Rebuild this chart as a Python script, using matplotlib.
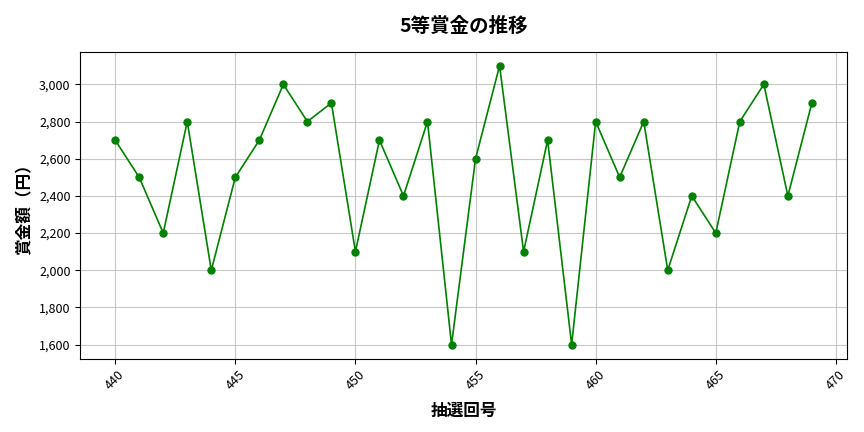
import matplotlib
matplotlib.use("Agg")
import matplotlib.pyplot as plt
import matplotlib.ticker as mticker

plt.rcParams['font.family'] = ['Noto Sans CJK JP', 'DejaVu Sans']

# 回号と5等賞金
rounds = list(range(440, 470))
prize = [2700, 2500, 2200, 2800, 2000, 2500, 2700, 3000, 2800, 2900,
         2100, 2700, 2400, 2800, 1600, 2600, 3100, 2100, 2700, 1600,
         2800, 2500, 2800, 2000, 2400, 2200, 2800, 3000, 2400, 2900]

fig, ax = plt.subplots(figsize=(8.64, 4.32), dpi=100)
ax.plot(rounds, prize, color='green', marker='o', markersize=5, linewidth=1.2)

ax.set_title('5等賞金の推移', fontsize=14, fontweight='bold', pad=14)
ax.set_xlabel('抽選回号', fontsize=12, fontweight='bold', labelpad=7)
ax.set_ylabel('賞金額（円）', fontsize=12, fontweight='bold')
ax.yaxis.set_major_formatter(mticker.FuncFormatter(lambda v, p: f'{int(v):,}'))
ax.grid(True, alpha=0.7)
plt.setp(ax.get_xticklabels(), rotation=45)
ax.tick_params(labelsize=9)

fig.subplots_adjust(left=0.093, right=0.98, top=0.88, bottom=0.17)
fig.savefig('out.png')
